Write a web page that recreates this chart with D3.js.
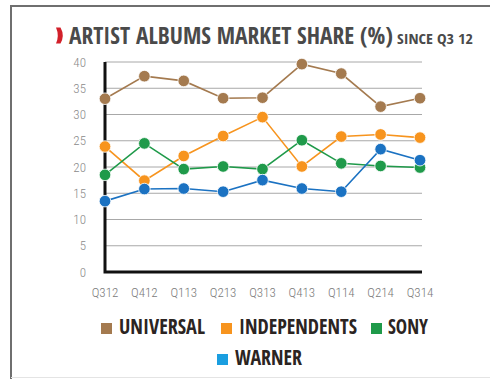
<!DOCTYPE html>
<html>
<head>
<meta charset="utf-8">
<script src="https://cdn.jsdelivr.net/npm/d3@7"></script>
<style>
  html, body { margin: 0; padding: 0; background: #fff; }
  svg { display: block; }
</style>
</head>
<body>
<div id="chart"></div>
<script>
const WIDTH = 490;
const HEIGHT = 379;

const quarters = ["Q312", "Q412", "Q113", "Q213", "Q313", "Q413", "Q114", "Q214", "Q314"];
const universal = [33, 37.3, 36.4, 33.1, 33.2, 39.6, 37.8, 31.5, 33.1];
const independents = [23.9, 17.4, 22.1, 25.9, 29.5, 20.1, 25.8, 26.2, 25.6];
const sony = [18.5, 24.5, 19.6, 20.1, 19.6, 25.1, 20.7, 20.2, 19.9];
const warner = [13.5, 15.8, 15.9, 15.3, 17.5, 15.9, 15.3, 23.4, 21.3];
const yTicks = [0, 5, 10, 15, 20, 25, 30, 35, 40];

const series = [
  { name: "UNIVERSAL", values: universal, color: "#a47a4f", key: "#a47a4f" },
  { name: "INDEPENDENTS", values: independents, color: "#f7941e", key: "#f7941e" },
  { name: "SONY", values: sony, color: "#1f9a4a", key: "#1f9a4a" },
  { name: "WARNER", values: warner, color: "#1b72c2", key: "#1a9ee0" }
];

const BOLD_FONT = "'Open Sans Condensed', 'Roboto Condensed', sans-serif";
const TICK_FONT = "'Roboto Condensed', sans-serif";

const margin = { left: 105, right: 68, top: 62, bottom: 107 };

const svg = d3.select("#chart")
  .append("svg")
  .attr("width", WIDTH)
  .attr("height", HEIGHT);

// frame
svg.append("path")
  .attr("d", `M11,${HEIGHT} L11,6 L${WIDTH},6`)
  .attr("fill", "none")
  .attr("stroke", "#6f6f6f")
  .attr("stroke-width", 2);
svg.append("line")
  .attr("x1", 11).attr("x2", WIDTH)
  .attr("y1", 377.5).attr("y2", 377.5)
  .attr("stroke", "#e4e4e4")
  .attr("stroke-width", 1);

// title
svg.append("path")
  .attr("d", "M56,27.5 L60.5,27.5 Q65,35.5 60.5,43.5 L56,43.5 Q59.5,35.5 56,27.5 Z")
  .attr("fill", "#d2202a");

svg.append("text")
  .attr("x", 69)
  .attr("y", 44)
  .attr("font-family", BOLD_FONT)
  .attr("font-weight", "bold")
  .attr("font-size", 23)
  .attr("fill", "#4a4a4a")
  .attr("textLength", 324)
  .attr("lengthAdjust", "spacingAndGlyphs")
  .text("ARTIST ALBUMS MARKET SHARE (%)");

svg.append("text")
  .attr("x", 397)
  .attr("y", 44)
  .attr("font-family", BOLD_FONT)
  .attr("font-weight", "bold")
  .attr("font-size", 15)
  .attr("fill", "#4a4a4a")
  .attr("textLength", 76)
  .attr("lengthAdjust", "spacingAndGlyphs")
  .text("SINCE Q3 12");

const x = d3.scalePoint()
  .domain(quarters)
  .range([margin.left, WIDTH - margin.right - 2]);

const y = d3.scaleLinear()
  .domain([0, 40])
  .range([HEIGHT - margin.bottom, margin.top]);

const xEnd = x(quarters[quarters.length - 1]) + 2;

// gridlines
svg.append("g")
  .selectAll("line")
  .data(yTicks.filter((d) => d > 0))
  .join("line")
  .attr("x1", margin.left)
  .attr("x2", xEnd)
  .attr("y1", (d) => y(d))
  .attr("y2", (d) => y(d))
  .attr("stroke", "#a8a8a8")
  .attr("stroke-width", 1);

// y labels
svg.append("g")
  .selectAll("text")
  .data(yTicks)
  .join("text")
  .attr("x", 86)
  .attr("y", (d) => y(d) + 4.5)
  .attr("text-anchor", "end")
  .attr("font-family", TICK_FONT)
  .attr("font-weight", 300)
  .attr("font-size", 13)
  .attr("fill", "#8a8a8a")
  .text((d) => d);

// x labels
svg.append("g")
  .selectAll("text")
  .data(quarters)
  .join("text")
  .attr("x", (d) => x(d))
  .attr("y", 297)
  .attr("text-anchor", "middle")
  .attr("font-family", TICK_FONT)
  .attr("font-weight", 300)
  .attr("font-size", 13)
  .attr("fill", "#7a7a7a")
  .text((d) => d);

// axes
svg.append("path")
  .attr("d", `M${margin.left},${y(40)} L${margin.left},${y(0)} L${xEnd},${y(0)}`)
  .attr("fill", "none")
  .attr("stroke", "#111")
  .attr("stroke-width", 3);

// lines
const line = d3.line()
  .x((d, i) => x(quarters[i]))
  .y((d) => y(d));

const seriesGroup = svg.append("g")
  .selectAll("g")
  .data(series)
  .join("g");

seriesGroup.append("path")
  .attr("d", (d) => line(d.values))
  .attr("fill", "none")
  .attr("stroke", (d) => d.color)
  .attr("stroke-width", 1.6);

seriesGroup.selectAll("circle")
  .data((d) => d.values.map((v, i) => ({ v, i, color: d.color })))
  .join("circle")
  .attr("cx", (d) => x(quarters[d.i]))
  .attr("cy", (d) => y(d.v))
  .attr("r", 5.8)
  .attr("fill", (d) => d.color)
  .attr("stroke", "#fff")
  .attr("stroke-width", 0.8);

// legend
const legendItems = [
  { s: series[0], sx: 101, tx: 119, tw: 86, row: 0 },
  { s: series[1], sx: 221, tx: 239, tw: 118, row: 0 },
  { s: series[2], sx: 371, tx: 388, tw: 40, row: 0 },
  { s: series[3], sx: 217, tx: 235, tw: 67, row: 1 }
];
const rowBase = [334, 365];

const legend = svg.append("g")
  .selectAll("g")
  .data(legendItems)
  .join("g");

legend.append("rect")
  .attr("x", (d) => d.sx)
  .attr("y", (d) => rowBase[d.row] - 11)
  .attr("width", 11)
  .attr("height", 11)
  .attr("fill", (d) => d.s.key);

legend.append("text")
  .attr("x", (d) => d.tx)
  .attr("y", (d) => rowBase[d.row])
  .attr("font-family", BOLD_FONT)
  .attr("font-weight", "bold")
  .attr("font-size", 21)
  .attr("fill", "#2b2422")
  .attr("textLength", (d) => d.tw)
  .attr("lengthAdjust", "spacingAndGlyphs")
  .text((d) => d.s.name);
</script>
</body>
</html>
